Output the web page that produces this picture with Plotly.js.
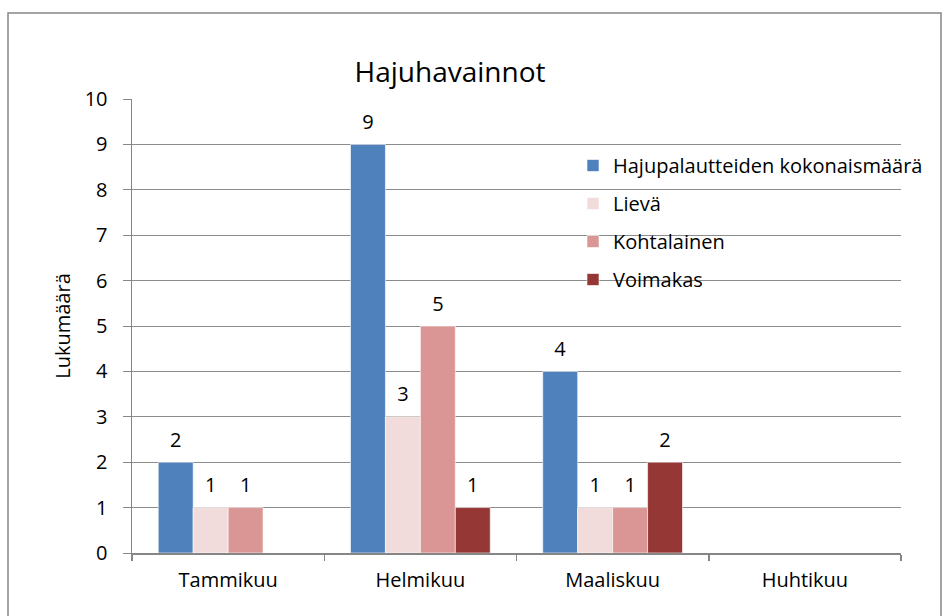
<!DOCTYPE html>
<html>
<head>
<meta charset="utf-8">
<script src="https://cdn.plot.ly/plotly-3.0.1.min.js"></script>
<style>
html,body{margin:0;padding:0;background:#fff;}
#chart{width:944px;height:616px;}
</style>
</head>
<body>
<div id="chart"></div>
<script>
const categories = ["Tammikuu", "Helmikuu", "Maaliskuu", "Huhtikuu"];
const seriesNames = ["Hajupalautteiden kokonaismäärä", "Lievä", "Kohtalainen", "Voimakas"];
const totalValues = [2, 9, 4, 0];
const lievaValues = [1, 3, 1, 0];
const kohtalainenValues = [1, 5, 1, 0];
const voimakasValues = [0, 1, 2, 0];
const seriesColors = ["#4F81BD", "#F2DCDB", "#D99694", "#953735"];
const yTickVals = [0,1,2,3,4,5,6,7,8,9,10];
const chartTitle = "Hajuhavainnot";
const yTitle = "Lukumäärä";

const FONT = "Open Sans, Noto Sans, sans-serif";
const allValues = [totalValues, lievaValues, kohtalainenValues, voimakasValues];

const traces = allValues.map((vals, i) => ({
  type: "bar",
  name: seriesNames[i],
  x: categories,
  y: vals,
  text: vals.map(v => v > 0 ? "<span style='font-size:20px'>" + v + "</span><br> " : ""),
  textposition: "outside",
  textfont: {family: FONT, size: 8, color: "#000"},
  cliponaxis: false,
  constraintext: "none",
  marker: {color: seriesColors[i], line: {color: "rgba(255,255,255,0.6)", width: 1}},
  legendgroup: "g" + i,
  hoverinfo: "x+y+name"
}));

const L = 132, R = 43, T = 99, B = 63;
const W = 944, H = 616;
const pw = W - L - R, ph = H - T - B;

const layout = {
  width: W, height: H,
  margin: {l: L, r: R, t: T, b: B, pad: 0},
  paper_bgcolor: "#fff",
  plot_bgcolor: "#fff",
  font: {family: FONT, size: 20, color: "#000"},
  barmode: "group",
  bargap: 0.273,
  bargroupgap: 0,
  title: {text: chartTitle, font: {family: FONT, size: 28, color: "#000"},
          x: 450 / W, xanchor: "center", y: 1 - 72 / H, yanchor: "middle", xref: "container", yref: "container"},
  xaxis: {
    type: "category",
    showgrid: false,
    showline: true, linecolor: "#868686", linewidth: 1.5,
    ticks: "outside", tickson: "boundaries", ticklen: 6, tickcolor: "#868686", tickwidth: 1.5,
    tickfont: {family: FONT, size: 20, color: "#000"},
    ticklabelstandoff: 8,
    zeroline: false,
    fixedrange: true
  },
  yaxis: {
    range: [0, 10],
    tickvals: yTickVals,
    showgrid: true, gridcolor: "#8c8c8c", gridwidth: 1,
    showline: true, linecolor: "#868686", linewidth: 1.5,
    ticks: "outside", ticklen: 8, tickcolor: "#868686", tickwidth: 1,
    tickfont: {family: FONT, size: 20, color: "#000"},
    ticklabelstandoff: 11,
    zeroline: false,
    title: {text: yTitle, font: {family: FONT, size: 20, color: "#000"}, standoff: 8},
    fixedrange: true
  },
  showlegend: true,
  legend: {
    x: (573 - L) / pw, xanchor: "left",
    y: (H - B - 146) / ph, yanchor: "top",
    bgcolor: "rgba(0,0,0,0)",
    font: {family: FONT, size: 20, color: "#000"},
    traceorder: "grouped",
    tracegroupgap: 9,
    itemwidth: 30,
    itemclick: false, itemdoubleclick: false
  },
  shapes: [{
    type: "rect", xref: "paper", yref: "paper", layer: "below",
    x0: (8 - L) / pw, x1: (941 - L) / pw,
    y0: (H - B - 630) / ph, y1: (H - B - 13) / ph,
    line: {color: "#868686", width: 1.5}, fillcolor: "rgba(0,0,0,0)"
  }]
};

Plotly.newPlot("chart", traces, layout, {displayModeBar: false, staticPlot: true});
</script>
</body>
</html>
